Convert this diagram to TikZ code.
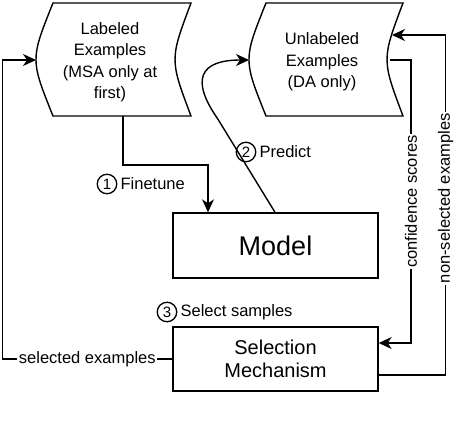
\documentclass[tikz,border=0pt]{standalone}
\usepackage{fontspec}
\setmainfont{Liberation Sans}
\usetikzlibrary{arrows.meta}
\begin{document}
\begin{tikzpicture}[x=1pt,y=-1pt,
  shp/.style={draw, line width=1.4pt, line join=miter},
  box/.style={draw, line width=1.4pt, minimum width=205pt, minimum height=65pt, inner sep=0pt},
  arr/.style={line width=1.4pt, -{Stealth[length=13pt,width=12pt,inset=4pt]}},
  lbl/.style={fill=white, inner sep=1.5pt, font=\fontsize{16.5}{20}\selectfont},
  num/.style={draw, circle, line width=1.3pt, minimum size=19.5pt, inner sep=0pt, font=\fontsize{15}{18}\selectfont},
  txt/.style={align=center, font=\fontsize{16.5}{21.5}\selectfont}
]
\useasboundingbox (0,0) rectangle (464,426);
% Labeled examples (stored data shape)
\draw[shp] (53,3) -- (191,3) .. controls (169.7,59.5) .. (191,116) -- (53,116) .. controls (30.3,59.5) .. (53,3) -- cycle;
\node[txt] (lab) at (110,62) {Labeled\\Examples\\(MSA only at\\first)};
\coordinate (labB) at (123,116);
\coordinate (labL) at (36,60);
% Unlabeled examples
\draw[shp] (266,3) -- (403,3) .. controls (381.7,59.5) .. (403,116) -- (266,116) .. controls (243.3,59.5) .. (266,3) -- cycle;
\node[txt] (unl) at (322,62) {Unlabeled\\Examples\\(DA only)};
\coordinate (unlL) at (249,60);
\coordinate (unlR) at (390,60);
\coordinate (unlR2) at (392,35);
% Model and selection
\node[box, font=\fontsize{27}{30}\selectfont] (model) at (275.5,245.5) {Model};
\node[box, align=center, minimum height=64pt, font=\fontsize{20}{23}\selectfont] (sel) at (275.5,359) {Selection\\Mechanism};
% Finetune
\draw[arr] (labB) -- ++(0,49) -| ([xshift=-67.5pt]model.north);
\node[num] (n1) at (107,184) {1};
\node[lbl, anchor=west, inner sep=0pt] (t1) at ([xshift=3pt]n1.east) {Finetune};
% Predict
\draw[arr] ([xshift=-0.5pt]model.north) -- ++(-57,-93) .. controls +(-28,-40) and +(-49,0) .. (unlL);
\node[num] (n2) at (246,152) {2};
\node[lbl, anchor=west, inner sep=0pt] (t2) at ([xshift=3pt]n2.east) {Predict};
% Select samples
\node[num] (n3) at (167,312) {3};
\node[lbl, anchor=west, inner sep=0pt] (t3) at ([xshift=3pt]n3.east) {Select samples};
% confidence scores
\draw[arr] (unlR) -- ++(21,0) |- node[lbl, pos=0.25, rotate=90] {confidence scores} ([yshift=16pt]sel.east);
% non-selected examples
\draw[arr] ([yshift=-16pt]sel.east) -- ++(67,0) |- node[lbl, pos=0.26, rotate=90] {non-selected examples} (unlR2);
% selected examples
\draw[arr] (sel.west) -- node[lbl] {selected examples} ++(-170,0) |- (labL);
\end{tikzpicture}
\end{document}
